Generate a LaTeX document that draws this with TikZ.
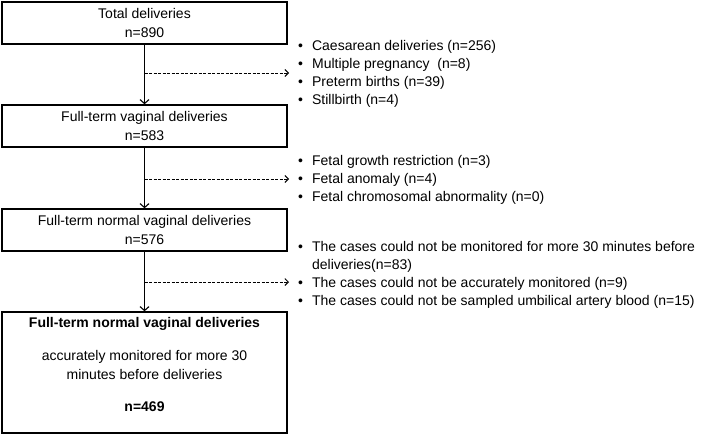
\documentclass[tikz,border=0pt]{standalone}
\usepackage{fontspec}
\setmainfont{Liberation Sans}
\usetikzlibrary{arrows.meta,positioning,calc}
\tikzstyle{etape}=[draw, line width=1.4pt, minimum width=285pt, minimum height=42pt, align=center, inner sep=0pt, font=\fontsize{14}{18.5}\selectfont]
\tikzstyle{liste}=[anchor=west, inner sep=0pt, font=\fontsize{14}{18}\selectfont]
\tikzstyle{fleche}=[-{Straight Barb[length=4pt,width=9pt]}, line width=1.1pt]
\tikzstyle{exclu}=[-{Straight Barb[length=3.5pt,width=7pt]}, line width=0.9pt, dash pattern=on 3pt off 1.5pt]

\begin{document}
\begin{tikzpicture}[x=1pt,y=-1pt]
\useasboundingbox (0,0) rectangle (709,434);

% boites
\node[etape] (total) at (144.5,23) {Total deliveries\\n=890};
\node[etape] (vaginal) at (144.5,126) {Full-term vaginal deliveries\\n=583};
\node[etape] (normal) at (144.5,230) {Full-term normal vaginal deliveries\\n=576};
\node[etape, minimum height=121pt, text depth=16pt] (final) at (144.5,372.5) {\textbf{Full-term normal vaginal deliveries}\\[15pt]
accurately monitored for more 30\\minutes before deliveries\\[14pt]\textbf{n=469}};

\draw[fleche] (total) -- (vaginal);
\draw[fleche] (vaginal) -- (normal);
\draw[fleche] (normal) -- (final);

% exclusions
\coordinate (d1) at (144.5,73);
\coordinate (f1) at (289,73);
\draw[exclu] (d1) -- (f1);
\node[liste] (ex1) at (298,73.5) {\begin{tabular}{@{}c@{\hspace{9pt}}l@{}}
\textbullet & Caesarean deliveries (n=256)\\
\textbullet & Multiple pregnancy\ \ (n=8)\\
\textbullet & Preterm births (n=39)\\
\textbullet & Stillbirth (n=4)
\end{tabular}};

\coordinate (d2) at (144.5,179);
\coordinate (f2) at (289,179);
\draw[exclu] (d2) -- (f2);
\node[liste] (ex2) at (298,180) {\begin{tabular}{@{}c@{\hspace{9pt}}l@{}}
\textbullet & Fetal growth restriction (n=3)\\
\textbullet & Fetal anomaly (n=4)\\
\textbullet & Fetal chromosomal abnormality (n=0)
\end{tabular}};

\coordinate (d3) at (144.5,282);
\coordinate (f3) at (289,282);
\draw[exclu] (d3) -- (f3);
\node[liste] (ex3) at (298,275) {\begin{tabular}{@{}c@{\hspace{9pt}}l@{}}
\textbullet & The cases could not be monitored for more 30 minutes before\\
 & deliveries(n=83)\\
\textbullet & The cases could not be accurately monitored (n=9)\\
\textbullet & The cases could not be sampled umbilical artery blood (n=15)
\end{tabular}};

\end{tikzpicture}
\end{document}
